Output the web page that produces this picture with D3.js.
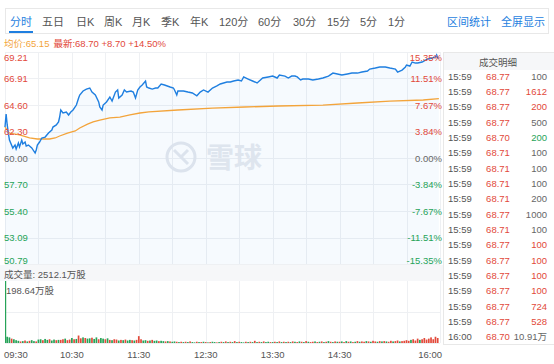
<!DOCTYPE html>
<html>
<head>
<meta charset="utf-8">
<script src="https://cdn.jsdelivr.net/npm/d3@7"></script>
<style>
body{margin:0;background:#fff;}
svg{display:block;font-family:"Liberation Sans","Noto Sans CJK SC",sans-serif;}
</style>
</head>
<body>
<svg id="chart" width="554" height="364"></svg>
<script>
var svg = d3.select('#chart');

var tabs = ["分时","五日","日K","周K","月K","季K","年K","120分","60分","30分","15分","5分","1分"];
var tabX = [10,42,76,104,132,161,190,219,258,293,327,360,388];

var prevClose = 60.00;
var avgPrice = 65.15;
var lastPrice = 68.70;
var totalVol = "2512.1万股";
var maxVolLabel = "198.64万股";

var priceTicks = [69.21,66.91,64.60,62.30,60.00,57.70,55.40,53.09,50.79];
var pctTicks = ["15.35%","11.51%","7.67%","3.84%","0.00%","-3.84%","-7.67%","-11.51%","-15.35%"];
var timeTicks = [0,60,120,180,240,300,390];
var timeLabels = ["09:30","10:30","11:30","12:30","13:30","14:30","16:00"];

// minute index since 09:30 and price
var priceMin = [0,1,2,3,4,7,9,10,12,13,15,16,18,19,21,24,27,28,29,31,33,36,39,42,43,46,48,49,50,52,
	55,57,59,61,64,66,67,70,73,76,78,81,84,85,87,88,91,94,96,99,101,102,105,107,109,113,115,117,119,121,
	123,126,127,129,132,135,137,140,143,148,151,152,154,155,160,164,168,172,175,178,182,186,190,193,196,199,202,205,209,212,
	214,218,222,226,229,231,236,240,244,246,251,254,257,260,262,265,267,272,276,281,285,290,294,298,302,307,311,316,320,325,
	327,332,336,341,345,350,352,356,359,360,363,365,368,370,374,377,379,383,386,387,388,389];
var priceVal = [62.69,63.82,62.87,62.17,61.56,60.87,61.13,60.78,61.30,60.96,61.56,61.22,61.39,61.04,61.13,60.87,60.43,60.70,61.13,61.39,
	61.74,61.82,62.17,62.43,62.69,62.87,63.13,63.56,64.17,63.91,64.00,63.74,64.00,64.17,64.60,65.21,65.47,65.82,65.99,66.08,
	65.73,65.47,64.87,64.43,64.17,64.60,64.87,65.30,64.95,65.73,65.91,65.21,65.47,65.91,65.73,65.82,65.73,65.21,65.91,66.17,
	66.34,66.69,66.17,66.08,65.99,66.08,66.08,66.43,66.34,66.17,66.08,65.91,65.47,65.82,65.82,65.73,65.65,65.41,65.73,65.91,
	65.73,66.08,66.26,66.43,66.52,66.60,66.60,66.69,66.78,66.69,67.04,66.86,66.69,66.52,66.78,66.95,67.04,67.12,66.95,67.21,
	67.12,66.95,67.12,67.12,67.04,66.78,66.86,66.86,66.78,66.86,66.95,67.12,67.38,67.30,67.21,67.30,67.38,67.38,67.47,67.56,
	67.73,67.82,67.91,67.91,67.82,67.73,67.47,67.64,67.91,68.08,67.99,68.34,68.25,68.25,68.34,68.51,68.60,68.69,68.78,68.95,
	68.69,68.70];

var avgMin = [0,4,13,22,29,34,40,45,49,56,63,67,74,79,85,94,103,112,121,129,155,186,215,245,285,316,345,375,389];
var avgVal = [62.69,62.17,62.00,61.74,61.65,61.65,61.65,61.74,61.91,62.17,62.35,62.61,62.95,63.13,63.30,63.48,63.56,63.74,63.91,64.00,
	64.17,64.34,64.43,64.52,64.60,64.78,64.95,65.04,65.15];

// volume (万股), one bar every 2 minutes, u = up (red), d = down (green)
var volumes = [
	198.64,20,18,14,12,9,7,5,6,8,
	5,7,9,6,5,11,12,9,13,10,
	12,8,11,9,10,10,12,14,9,11,
	16,12,13,24,15,18,16,14,15,17,
	13,18,12,16,14,12,15,10,9,12,
	11,8,10,9,11,8,10,9,8,10,
	22,12,8,9,7,8,10,7,8,6,
	7,6,5,6,5,4,5,4,3,4,
	3,4,3,5,3,2,4,3,3,4,
	3,2,3,4,3,2,3,4,3,5,
	3,4,3,6,3,4,3,2,4,3,
	4,3,7,3,4,3,5,3,4,3,
	3,4,3,5,3,4,3,4,3,5,
	4,3,5,4,3,6,4,3,4,5,
	3,4,5,3,4,6,4,3,5,4,
	4,5,3,6,4,5,3,4,6,4,
	5,4,6,5,4,7,5,4,6,5,
	6,5,4,7,5,6,8,5,6,7,
	9,7,10,12,8,14,10,12,16,11,
	14,18,12,20,16];
var volDir = [
	"d","d","d","u","d","d","d","u","d","u",
	"d","u","d","d","u","d","d","u","d","d",
	"u","d","d","u","d","u","u","d","u","u",
	"d","u","d","u","u","d","u","d","d","u",
	"d","d","u","d","d","u","d","u","d","u",
	"u","d","u","d","u","d","d","u","d","u",
	"u","u","d","d","u","d","u","d","d","u",
	"d","d","u","d","u","d","d","u","d","u",
	"d","u","d","u","d","d","u","d","u","d",
	"u","d","u","d","d","u","d","u","d","u",
	"d","u","d","u","d","u","d","d","u","d",
	"u","d","u","d","u","d","u","d","d","u",
	"d","u","d","u","d","u","d","u","d","u",
	"d","u","d","u","d","u","d","u","u","d",
	"u","d","u","d","u","d","u","d","u","d",
	"u","d","u","d","u","d","u","d","u","d",
	"u","u","d","u","d","u","u","d","u","d",
	"u","d","u","u","d","u","u","d","u","u",
	"u","u","d","u","u","u","d","u","u","u",
	"u","u","u","u","u"];

var tradeTimes = ["15:59","15:59","15:59","15:59","15:59","15:59","15:59","15:59","15:59",
	"15:59","15:59","15:59","15:59","15:59","15:59","15:59","15:59","16:00"];
var tradePrices = ["68.77","68.77","68.77","68.77","68.70","68.71","68.71","68.71","68.71",
	"68.77","68.71","68.77","68.77","68.77","68.77","68.77","68.77","68.70"];
var tradeVols = ["100","1612","200","500","200","100","100","100","200",
	"1000","100","100","100","100","100","724","528","10.91万"];
var tradeDirs = ["n","u","u","n","d","n","n","n","n","n","n","u","u","u","u","u","u","n"];

var RED = "#e2493a", GREEN = "#26a358", GREY = "#666", BLUE = "#1f7fe0", ORANGE = "#f3a43b";
var FS = 9.5;
var dirColor = function(d){ return d == "u" ? RED : (d == "d" ? GREEN : GREY); };

var x = d3.scaleLinear().domain([0,390]).range([5,440]);
var y = d3.scaleLinear().domain([priceTicks[8],priceTicks[0]]).range([264,52]);
var yv = d3.scaleLinear().domain([0,d3.max(volumes)]).range([343,281]);

// tab bar
svg.append("rect").attr("x",5.5).attr("y",8.5).attr("width",543).attr("height",25)
	.attr("fill","#fff").attr("stroke","#e8e8e8");
svg.selectAll("text.tab").data(tabs).enter().append("text")
	.attr("class","tab")
	.attr("x",function(d,i){return tabX[i];})
	.attr("y",26)
	.attr("font-size",11)
	.attr("fill",function(d,i){return i == 0 ? BLUE : "#555";})
	.text(function(d){return d;});
svg.append("rect").attr("x",9).attr("y",31).attr("width",24).attr("height",2).attr("fill",BLUE);
svg.append("text").attr("x",447).attr("y",26).attr("font-size",11).attr("fill",BLUE).text("区间统计");
svg.append("text").attr("x",501).attr("y",26).attr("font-size",11).attr("fill",BLUE).text("全屏显示");

// info line
var info = svg.append("text").attr("x",4).attr("y",46.5).attr("font-size",FS);
info.append("tspan").attr("fill",ORANGE).text("均价:" + avgPrice.toFixed(2));
info.append("tspan").attr("fill",RED).attr("dx",4)
	.text("最新:" + lastPrice.toFixed(2) + " +" + (lastPrice - prevClose).toFixed(2) + " +14.50%");

// grid
var grid = svg.append("g").attr("stroke","#eef0f3").attr("stroke-width",1);
grid.selectAll("line.h").data(priceTicks).enter().append("line")
	.attr("x1",5).attr("x2",440)
	.attr("y1",function(d){return Math.round(y(d)) + 0.5;})
	.attr("y2",function(d){return Math.round(y(d)) + 0.5;});
var vTicks = d3.range(0,391,30);
grid.selectAll("line.v").data(vTicks).enter().append("line")
	.attr("x1",function(d){return Math.round(x(d)) + 0.5;})
	.attr("x2",function(d){return Math.round(x(d)) + 0.5;})
	.attr("y1",52).attr("y2",264);
grid.selectAll("line.vv").data(vTicks).enter().append("line")
	.attr("x1",function(d){return Math.round(x(d)) + 0.5;})
	.attr("x2",function(d){return Math.round(x(d)) + 0.5;})
	.attr("y1",281).attr("y2",343);
grid.append("line").attr("x1",5).attr("x2",440).attr("y1",312.5).attr("y2",312.5);
grid.append("line").attr("x1",5).attr("x2",440).attr("y1",343.5).attr("y2",343.5);

// watermark
var wm = svg.append("g");
wm.append("circle").attr("cx",181).attr("cy",157).attr("r",14).attr("fill","none")
	.attr("stroke","#e4e8ee").attr("stroke-width",3);
wm.append("path").attr("d","M174,150 Q181,157 188,164 M188,150 Q183,155 181,157")
	.attr("stroke","#e4e8ee").attr("stroke-width",3).attr("fill","none");
wm.append("text").attr("x",206).attr("y",168).attr("font-size",28).attr("font-weight","bold")
	.attr("fill","#e7eaef").text("雪球");

// price area + lines
var pts = priceMin.map(function(m,i){return [m,priceVal[i]];});
var area = d3.area().x(function(d){return x(d[0]);}).y0(264).y1(function(d){return y(d[1]);});
svg.append("path").datum(pts).attr("d",area).attr("fill","#1f7fe0").attr("opacity",0.04);
var line = d3.line().x(function(d){return x(d[0]);}).y(function(d){return y(d[1]);});
svg.append("path").datum(avgMin.map(function(m,i){return [m,avgVal[i]];}))
	.attr("d",line).attr("fill","none").attr("stroke",ORANGE).attr("stroke-width",1.3);
svg.append("path").datum(pts)
	.attr("d",line).attr("fill","none").attr("stroke",BLUE).attr("stroke-width",1.4);

// y labels
var labelY = function(d,i){
	if(i == 0) return y(d) + 8.5;
	if(i == priceTicks.length - 1) return y(d) - 0.5;
	return y(d) + 3.8;
};
var tickColor = function(d){ return d > prevClose ? RED : (d < prevClose ? GREEN : GREY); };
svg.selectAll("text.pl").data(priceTicks).enter().append("text")
	.attr("x",4).attr("y",labelY).attr("font-size",FS)
	.attr("fill",tickColor).text(function(d){return d.toFixed(2);});
svg.selectAll("text.pr").data(priceTicks).enter().append("text")
	.attr("x",442).attr("y",labelY).attr("font-size",FS).attr("text-anchor","end")
	.attr("fill",tickColor).text(function(d,i){return pctTicks[i];});

// volume
svg.append("rect").attr("x",0).attr("y",265).attr("width",443).attr("height",16).attr("fill","#f6f7f9");
svg.append("text").attr("x",4).attr("y",277.5).attr("font-size",FS).attr("fill","#555").text("成交量: " + totalVol);
svg.selectAll("rect.vol").data(volumes).enter().append("rect")
	.attr("x",function(d,i){return x(i * 2) - (i == 0 ? 0 : 0.9);})
	.attr("width",function(d,i){return i == 0 ? 1.2 : 1.7;})
	.attr("y",function(d){return yv(d);})
	.attr("height",function(d){return 343 - yv(d);})
	.attr("fill",function(d,i){return volDir[i] == "u" ? RED : GREEN;});
svg.append("text").attr("x",6).attr("y",294).attr("font-size",FS).attr("fill","#555").text(maxVolLabel);

// time axis
svg.selectAll("text.t").data(timeTicks).enter().append("text")
	.attr("x",function(d,i){return i == 0 ? 4 : (i == timeTicks.length - 1 ? 442 : x(d));})
	.attr("y",357.5).attr("font-size",FS).attr("fill","#555")
	.attr("text-anchor",function(d,i){return i == 0 ? "start" : (i == timeTicks.length - 1 ? "end" : "middle");})
	.text(function(d,i){return timeLabels[i];});

// trade table
svg.append("rect").attr("x",443.5).attr("y",52.5).attr("width",111).attr("height",292)
	.attr("fill","#fff").attr("stroke","#e8e8e8");
svg.append("rect").attr("x",444).attr("y",53).attr("width",110).attr("height",17).attr("fill","#f6f7f9");
svg.append("text").attr("x",498).attr("y",65.5).attr("font-size",FS).attr("fill","#555")
	.attr("text-anchor","middle").text("成交明细");
var rowY = function(d,i){return 79.5 + i * 15.35;};
svg.selectAll("text.tt").data(tradeTimes).enter().append("text")
	.attr("x",448).attr("y",rowY).attr("font-size",FS).attr("fill","#555").text(function(d){return d;});
svg.selectAll("text.tp").data(tradePrices).enter().append("text")
	.attr("x",498).attr("y",rowY).attr("font-size",FS).attr("text-anchor","middle")
	.attr("fill",function(d){return +d > prevClose ? RED : GREEN;}).text(function(d){return d;});
svg.selectAll("text.tv").data(tradeVols).enter().append("text")
	.attr("x",547).attr("y",rowY).attr("font-size",FS).attr("text-anchor","end")
	.attr("fill",function(d,i){return dirColor(tradeDirs[i]);}).text(function(d){return d;});
</script>
</body>
</html>
